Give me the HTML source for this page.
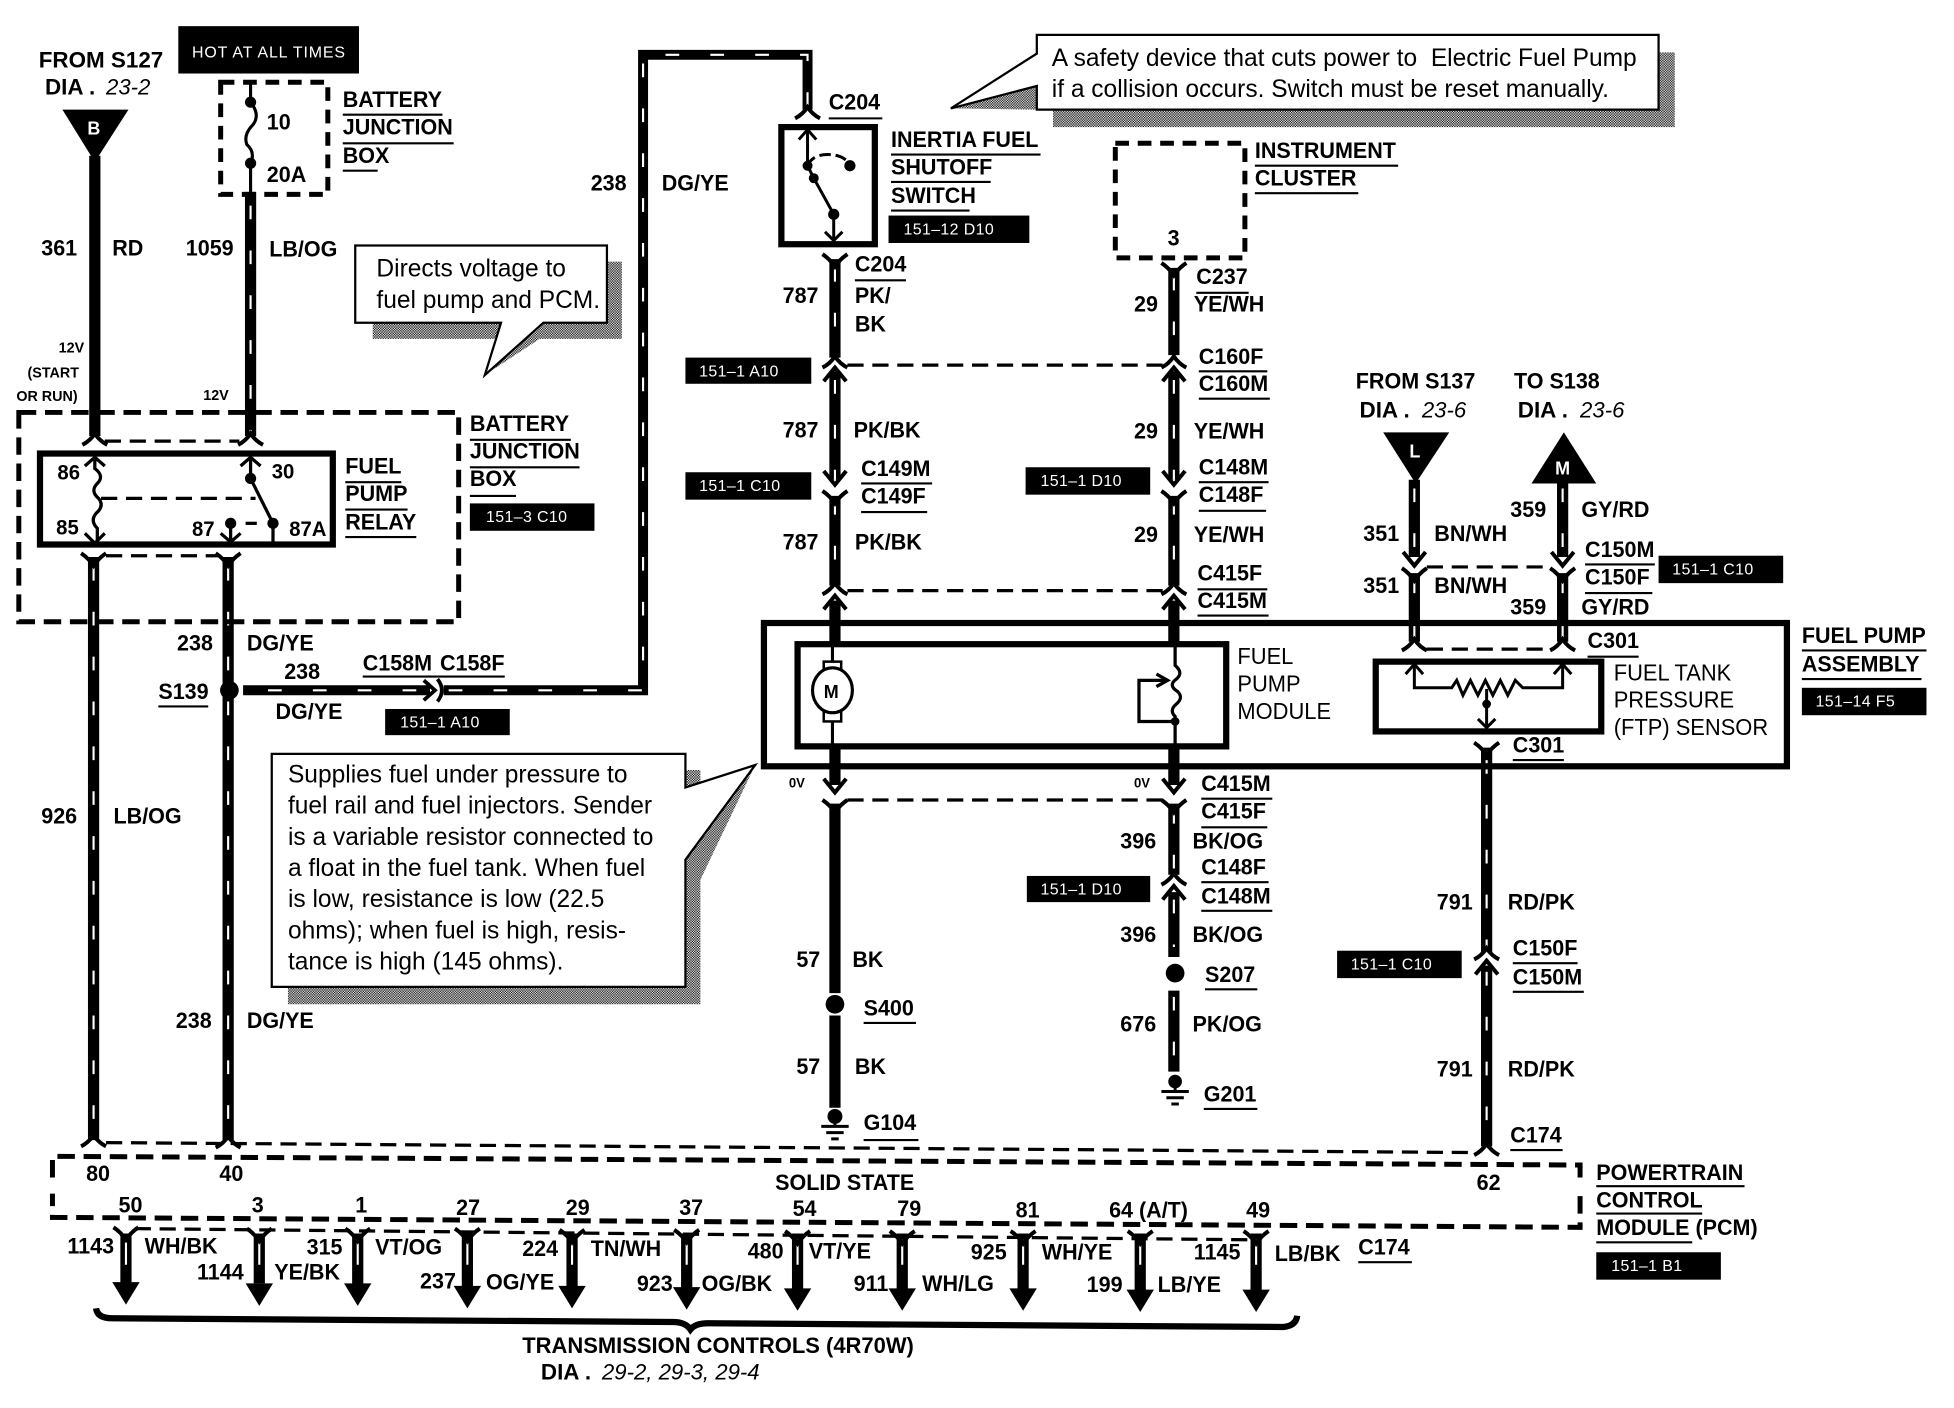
<!DOCTYPE html>
<html><head><meta charset="utf-8"><title>Fuel pump wiring diagram</title>
<style>
html,body{margin:0;padding:0;background:#fff}
svg{display:block}
text{font-family:"Liberation Sans",sans-serif;font-weight:700;font-size:18px;fill:#000;transform-box:fill-box;transform-origin:0 50%;transform:scaleX(.96)}
text.w{transform:none}
text.r{font-weight:400;font-size:19.7px;transform:none}
text.c{font-weight:400;font-size:18.5px;transform:scaleX(.95)}
text.t{font-weight:400;font-size:12.8px;fill:#fff;letter-spacing:.3px;transform:none}
text.s{font-size:12px}
text.z{font-size:11px}
text.i{font-style:italic;font-weight:400;font-size:17.8px;transform:none}
</style></head><body>
<svg xmlns="http://www.w3.org/2000/svg" width="1954" height="1408" viewBox="0 0 1568 1130">
<defs>
<pattern id="sh" width="2" height="2" patternUnits="userSpaceOnUse"><rect width="2" height="2" fill="#fff"/><rect width="1" height="1" fill="#000"/><rect x="1" y="1" width="1" height="1" fill="#000"/></pattern>
<path id="fd" d="M-10 5Q-4 2 0 -4Q4 2 10 5" fill="none" stroke="#000" stroke-width="3.2"/>
<path id="fu" d="M-10 -6Q-4 -2 0 4Q4 -2 10 -6" fill="none" stroke="#000" stroke-width="3.2"/>
<path id="ad" d="M-9 -8L0 3L9 -8" fill="none" stroke="#000" stroke-width="3.2"/>
<path id="au" d="M-9 8L0 -3L9 8" fill="none" stroke="#000" stroke-width="3.2"/>
<path id="hd" d="M-11 -12H11L0 6Z" fill="#000"/>
</defs>
<rect width="1568" height="1130" fill="#fff"/>

<!-- shadows -->
<g fill="url(#sh)">
<path d="M487 210H499V272H433L389 301L425 259H487Z"/>
<path d="M299 259H402V272H299Z"/>
<path d="M1331 42H1344V102H845V88H1331Z"/>
<path d="M763 87L832 69V88Z"/>
<path d="M550 618H562V806H231V792H550Z"/>
<path d="M606 614L562 706L550 706V632Z"/>
</g>

<!-- callouts -->
<g fill="#fff" stroke="#000" stroke-width="1.8">
<path d="M285 197H487V259H436L389 301L402 259H285Z"/>
<path d="M832 28H1331V88H832V69L763 87L832 43Z"/>
<path d="M218 605H550V632L606 614L550 690V792H218Z"/>
</g>

<!-- solid wires -->
<g fill="none" stroke="#000" stroke-width="9">
<path d="M76 125V350"/>
<path d="M201 154V350"/>
<path d="M75 447V915"/>
<path d="M183 447V915"/>
<path d="M195 554H345M356 554H516V44H648V88" stroke-width="8"/>
<path d="M670 208V287M670 298V385M670 398V470M670 482V517M670 599V630M670 645V797M670 815V889"/>
<path d="M942 215V285M942 298V385M942 398V470M942 482V517M942 599V630M942 645V702M942 716V768M942 795V860"/>
<path d="M1135 385V447M1135 460V515"/>
<path d="M1254 385V447M1254 460V515"/>
<path d="M1193 600V764M1193 775V920"/>
<path d="M101 990V1030M208 990V1030M287 990V1031M375 990V1033M459 990V1033M551 990V1034M640 990V1035M724 990V1035M821 990V1035M915 990V1036M1008 990V1036"/>
</g>
<!-- stripes -->
<g fill="none" stroke="#fff" stroke-width="1.7" stroke-dasharray="11 25">
<path d="M201 165V350"/>
<path d="M75 455V915"/>
<path d="M183 455V915"/>
<path d="M215 554H345M360 554H516V44H648V88"/>
<path d="M670 215V287M670 305V385M670 402V470"/>
<path d="M942 222V285M942 305V385M942 402V470M942 650V702M942 722V760M942 800V860"/>
<path d="M1135 392V447M1135 465V515"/>
<path d="M1254 392V447M1254 465V515"/>
<path d="M1193 610V764M1193 780V920"/>
<path d="M101 995V1022M208 995V1022M287 995V1022M375 995V1022M459 995V1022M551 995V1022M640 995V1022M724 995V1022M821 995V1022M915 995V1022M1008 995V1022" stroke-dasharray="20 100"/>
</g>

<!-- triangles -->
<path d="M50 88H103L76 130Z"/>
<path d="M1110 347H1163L1136 388Z"/>
<path d="M1229 388H1281L1255 347Z"/>
<text x="70" y="108" style="fill:#fff;font-size:15px">B</text>
<text x="1131" y="367" style="fill:#fff;font-size:15px">L</text>
<text x="1248" y="381" style="fill:#fff;font-size:15px">M</text>

<!-- black tags -->
<g>
<rect x="143" y="21" width="145" height="38"/>
<rect x="377" y="404" width="100" height="22"/>
<rect x="309" y="569" width="100" height="21"/>
<rect x="713" y="173" width="113" height="22"/>
<rect x="550" y="287" width="101" height="21"/>
<rect x="550" y="379" width="101" height="22"/>
<rect x="823" y="375" width="100" height="22"/>
<rect x="1331" y="446" width="100" height="22"/>
<rect x="1446" y="552" width="100" height="22"/>
<rect x="824" y="703" width="99" height="21"/>
<rect x="1073" y="763" width="100" height="22"/>
<rect x="1281" y="1005" width="100" height="22"/>
</g>
<text class="t" x="154" y="46" style="letter-spacing:.7px">HOT AT ALL TIMES</text>
<text class="t" x="390" y="419">151–3 C10</text>
<text class="t" x="321" y="584">151–1 A10</text>
<text class="t" x="725" y="188">151–12 D10</text>
<text class="t" x="561" y="302">151–1 A10</text>
<text class="t" x="561" y="394">151–1 C10</text>
<text class="t" x="835" y="390">151–1 D10</text>
<text class="t" x="1342" y="461">151–1 C10</text>
<text class="t" x="1457" y="567">151–14 F5</text>
<text class="t" x="835" y="718">151–1 D10</text>
<text class="t" x="1084" y="778">151–1 C10</text>
<text class="t" x="1293" y="1020">151–1 B1</text>

<!-- dashed module boxes -->
<g fill="none" stroke="#000" stroke-width="4" stroke-dasharray="14 7">
<path d="M177 66H263V156H177Z" stroke-dasharray="11 7"/>
<path d="M15 331H368V499H15Z"/>
<path d="M895 115H999V207H895Z" stroke-dasharray="11 7"/>
<path d="M42 945V928L1268 935V950M1268 960V985L42 977V958"/>
</g>
<!-- thin dashed connector bars -->
<g fill="none" stroke="#000" stroke-width="2.6" stroke-dasharray="13 7">
<path d="M84 354H192"/>
<path d="M85 446H175"/>
<path d="M680 293H933"/>
<path d="M680 474H933"/>
<path d="M680 642H933"/>
<path d="M1145 455H1245"/>
<path d="M1145 521H1245"/>
<path d="M85 917L1183 925"/>
<path d="M108 986L1005 995"/>
</g>

<!-- solid module boxes -->
<g fill="none" stroke="#000" stroke-width="5">
<rect x="32" y="364" width="235" height="73"/>
<rect x="627" y="102" width="75" height="94"/>
<rect x="613" y="500" width="821" height="115"/>
<rect x="640" y="517" width="344" height="82"/>
<rect x="1104" y="531" width="181" height="56"/>
</g>

<!-- connector ends -->
<use href="#fd" x="76" y="352"/><use href="#fd" x="201" y="352"/>
<use href="#fu" x="75" y="450"/><use href="#fu" x="183" y="450"/>
<use href="#fd" x="648" y="90"/>
<use href="#fu" x="670" y="210"/><use href="#fd" x="670" y="290"/><use href="#au" x="670" y="298"/>
<use href="#ad" x="670" y="386"/><use href="#fu" x="670" y="400"/><use href="#fd" x="670" y="472"/><use href="#au" x="670" y="481"/>
<use href="#ad" x="670" y="633"/><use href="#fu" x="670" y="648"/>
<use href="#fu" x="942" y="217"/><use href="#fd" x="942" y="290"/><use href="#au" x="942" y="298"/>
<use href="#ad" x="942" y="386"/><use href="#fu" x="942" y="400"/><use href="#fd" x="942" y="472"/><use href="#au" x="942" y="481"/>
<use href="#ad" x="942" y="633"/><use href="#fu" x="942" y="648"/><use href="#fd" x="942" y="705"/><use href="#au" x="942" y="714"/>
<use href="#ad" x="1135" y="451"/><use href="#fu" x="1135" y="462"/><use href="#fd" x="1135" y="517"/>
<use href="#ad" x="1254" y="451"/><use href="#fu" x="1254" y="462"/><use href="#fd" x="1254" y="517"/>
<use href="#fu" x="1193" y="602"/><use href="#fd" x="1193" y="765"/><use href="#au" x="1193" y="774"/><use href="#fd" x="1193" y="922"/>
<use href="#fd" x="75" y="915"/><use href="#fd" x="183" y="916"/>
<use href="#fu" x="101" y="991"/><use href="#fu" x="208" y="992"/><use href="#fu" x="287" y="992"/><use href="#fu" x="375" y="992"/><use href="#fu" x="459" y="993"/><use href="#fu" x="551" y="993"/><use href="#fu" x="640" y="994"/><use href="#fu" x="724" y="994"/><use href="#fu" x="821" y="994"/><use href="#fu" x="915" y="994"/><use href="#fu" x="1008" y="994"/>
<!-- arrow tips -->
<use href="#hd" x="101" y="1041"/><use href="#hd" x="208" y="1042"/><use href="#hd" x="287" y="1042"/><use href="#hd" x="375" y="1044"/><use href="#hd" x="459" y="1044"/><use href="#hd" x="551" y="1045"/><use href="#hd" x="640" y="1046"/><use href="#hd" x="724" y="1046"/><use href="#hd" x="821" y="1046"/><use href="#hd" x="915" y="1047"/><use href="#hd" x="1008" y="1047"/>
<!-- brace -->
<path d="M77 1050Q78 1058 90 1058L540 1061Q550 1061 554 1067Q558 1062 568 1062L1030 1065Q1040 1064 1041 1056" fill="none" stroke="#000" stroke-width="5"/>
<!-- inline connector 158 -->
<path d="M340 546L349 554L340 562M351 545Q358 554 351 563" fill="none" stroke="#000" stroke-width="3"/>

<!-- fuse -->
<path d="M201 66V82Q209 92 203 100Q195 108 198 116Q205 122 201 131V156" fill="none" stroke="#000" stroke-width="2.5"/>
<circle cx="201" cy="82" r="4.5"/><circle cx="201" cy="131" r="4.5"/>

<!-- relay internals -->
<g fill="none" stroke="#000" stroke-width="2.6">
<path d="M76 366V376Q84 382 78 388Q72 394 79 400Q84 406 77 412Q72 418 78 424V436"/>
<path d="M68 374L76 367L84 374M68 428L76 436L84 428"/>
<path d="M201 366V384L219 420V436"/>
<path d="M193 374L201 367L209 374"/>
<path d="M185 420V435M177 428L185 435L193 428"/>
<path d="M81 400H205" stroke-dasharray="13 7"/>
<path d="M197 420H206"/>
</g>
<circle cx="201" cy="384" r="4.5"/><circle cx="219" cy="420" r="4.5"/><circle cx="185" cy="420" r="4.5"/>

<!-- inertia switch internals -->
<g fill="none" stroke="#000" stroke-width="2.4">
<path d="M648 103V133L653 143L669 172V193"/>
<path d="M641 112L648 104L655 112M662 186L669 193L676 186"/>
<path d="M648 133Q652 124 664 124Q678 124 682 133" stroke-dasharray="9 4"/>
</g>
<circle cx="648" cy="133" r="4"/><circle cx="653" cy="143" r="4"/><circle cx="669" cy="172" r="4.5"/><circle cx="682" cy="133" r="4.5"/>

<!-- motor -->
<path d="M668 517V535M668 577V599" stroke="#000" stroke-width="2.5"/>
<rect x="661" y="531" width="14" height="8" fill="#fff" stroke="#000" stroke-width="2"/>
<rect x="661" y="571" width="14" height="8" fill="#fff" stroke="#000" stroke-width="2"/>
<ellipse cx="668" cy="554" rx="16" ry="18" fill="#fff" stroke="#000" stroke-width="2.5"/>
<text x="661" y="560" style="font-size:15px">M</text>

<!-- sender -->
<g fill="none" stroke="#000" stroke-width="2.6">
<path d="M943 517V534Q950 540 944 545Q937 550 945 555Q950 560 944 565Q938 570 943 575V599"/>
<path d="M943 579H914V546H935"/>
<path d="M928 541L937 546L928 551"/>
</g>
<circle cx="943" cy="579" r="3.5"/>

<!-- FTP sensor -->
<g fill="none" stroke="#000" stroke-width="2.4">
<path d="M1135 534V552H1165L1169 546L1174 558L1180 546L1186 558L1192 546L1198 558L1204 546L1210 558L1216 546L1222 552H1254V534"/>
<path d="M1128 541L1135 533L1142 541M1247 541L1254 533L1261 541"/>
<path d="M1193 553V584M1186 577L1193 584L1200 577"/>
</g>
<circle cx="1193" cy="565" r="3.5"/>

<!-- splice nodes and grounds -->
<circle cx="184" cy="554" r="7.5"/>
<circle cx="670" cy="806" r="7.5"/>
<circle cx="943" cy="781" r="7.5"/>
<circle cx="670" cy="896" r="6"/>
<circle cx="943" cy="868" r="5.5"/>
<g stroke="#000" stroke-width="2.4" fill="none">
<path d="M670 896V905M659 904H681M663 909H677M667 914H673"/>
<path d="M943 868V877M932 876H954M936 881H950M940 886H946"/>
</g>

<!-- underlines -->
<path fill="none" stroke="#000" stroke-width="1.7" d="M275 92H355M275 115H364M275 137H303M377 353H458M377 375H465M377 398H414M277 387H322M277 409H327M277 431H334M127 567H167M291 543H405M665 95H708M715 124H835M715 146H795M715 169H778M686 225H727M691 388H748M691 411H744M962 298H1017M962 320H1019M960 235H1002M1007 133H1122M1007 155H1090M962 387H1018M962 410H1016M961 473H1017M961 494H1018M1272 453H1328M1272 476H1326M1274 527H1315M1446 522H1546M1446 545H1542M964 641H1021M964 664H1017M964 708H1018M964 731H1021M693 821H735M967 794H1009M693 915H737M966 890H1009M1214 610H1255M1214 773H1266M1214 796H1271M1212 923H1254M1090 1013H1133M1281 952H1400M1281 974H1366M1281 997H1358"/>

<!-- labels -->
<text class="w" x="31" y="54">FROM S127</text>
<text class="w" x="36" y="76">DIA .</text><text class="i" x="85" y="76">23-2</text>
<text x="214" y="104">10</text><text x="214" y="146">20A</text>
<text x="275" y="86">BATTERY</text><text x="275" y="108">JUNCTION</text><text x="275" y="131">BOX</text>
<text x="33" y="205">361</text><text x="90" y="205">RD</text>
<text x="149" y="205">1059</text><text x="216" y="206">LB/OG</text>
<text class="r" x="302" y="222">Directs voltage to</text>
<text class="r" x="302" y="247">fuel pump and PCM.</text>
<text class="s" x="47" y="283">12V</text><text class="s" x="22" y="303">(START</text><text class="s" x="13" y="322">OR RUN)</text><text class="s" x="163" y="321">12V</text>
<text x="377" y="346">BATTERY</text><text x="377" y="368">JUNCTION</text><text x="377" y="390">BOX</text>
<text x="46" y="385" style="font-size:17px">86</text><text x="45" y="429" style="font-size:17px">85</text><text x="218" y="384" style="font-size:17px">30</text><text x="154" y="430" style="font-size:17px">87</text><text x="232" y="430" style="font-size:17px">87A</text>
<text x="277" y="380">FUEL</text><text x="277" y="402">PUMP</text><text x="277" y="425">RELAY</text>
<text x="142" y="522">238</text><text x="198" y="522">DG/YE</text>
<text x="127" y="561">S139</text>
<text x="291" y="538">C158M</text><text x="353" y="538">C158F</text>
<text x="228" y="545">238</text><text x="221" y="577">DG/YE</text>
<text x="33" y="661">926</text><text x="91" y="661">LB/OG</text>
<text x="141" y="825">238</text><text x="198" y="825">DG/YE</text>
<text x="474" y="153">238</text><text x="531" y="153">DG/YE</text>
<text x="665" y="88">C204</text>
<text x="715" y="118">INERTIA FUEL</text><text x="715" y="140">SHUTOFF</text><text x="715" y="163">SWITCH</text>
<text class="r" x="844" y="53">A safety device that cuts power to&#160; Electric Fuel Pump</text>
<text class="r" x="844" y="78">if a collision occurs. Switch must be reset manually.</text>
<text x="1007" y="127">INSTRUMENT</text><text x="1007" y="149">CLUSTER</text>
<text x="937" y="197">3</text>
<text x="686" y="218">C204</text><text x="686" y="243">PK/</text><text x="686" y="266">BK</text><text x="628" y="243">787</text>
<text x="628" y="351">787</text><text x="685" y="351">PK/BK</text>
<text x="691" y="382">C149M</text><text x="691" y="404">C149F</text>
<text x="628" y="441">787</text><text x="686" y="441">PK/BK</text>
<text x="960" y="228">C237</text><text x="958" y="250">YE/WH</text><text x="910" y="250">29</text>
<text x="962" y="292">C160F</text><text x="962" y="314">C160M</text>
<text x="910" y="352">29</text><text x="958" y="352">YE/WH</text>
<text x="962" y="381">C148M</text><text x="962" y="403">C148F</text>
<text x="910" y="435">29</text><text x="958" y="435">YE/WH</text>
<text x="961" y="466">C415F</text><text x="961" y="488">C415M</text>
<text x="1088" y="312">FROM S137</text><text class="w" x="1091" y="335">DIA .</text><text class="i" x="1141" y="335">23-6</text>
<text x="1215" y="312">TO S138</text><text class="w" x="1218" y="335">DIA .</text><text class="i" x="1268" y="335">23-6</text>
<text x="1094" y="434">351</text><text x="1151" y="434">BN/WH</text>
<text x="1094" y="476">351</text><text x="1151" y="476">BN/WH</text>
<text x="1212" y="415">359</text><text x="1269" y="415">GY/RD</text>
<text x="1272" y="447">C150M</text><text x="1272" y="469">C150F</text>
<text x="1212" y="493">359</text><text x="1269" y="493">GY/RD</text>
<text x="1274" y="520">C301</text>
<text x="1446" y="516">FUEL PUMP</text><text x="1446" y="539">ASSEMBLY</text>
<text class="c" x="993" y="533">FUEL</text><text class="c" x="993" y="555">PUMP</text><text class="c" x="993" y="577">MODULE</text>
<text class="c" x="1295" y="546">FUEL TANK</text><text class="c" x="1295" y="568">PRESSURE</text><text class="c" x="1295" y="590">(FTP) SENSOR</text>
<text x="1214" y="604">C301</text>
<text class="r" x="231" y="628">Supplies fuel under pressure to</text>
<text class="r" x="231" y="653">fuel rail and fuel injectors. Sender</text>
<text class="r" x="231" y="678">is a variable resistor connected to</text>
<text class="r" x="231" y="703">a float in the fuel tank. When fuel</text>
<text class="r" x="231" y="728">is low, resistance is low (22.5</text>
<text class="r" x="231" y="753">ohms); when fuel is high, resis-</text>
<text class="r" x="231" y="778">tance is high (145 ohms).</text>
<text class="z" x="633" y="632">0V</text><text class="z" x="910" y="632">0V</text>
<text x="964" y="635">C415M</text><text x="964" y="657">C415F</text>
<text x="899" y="681">396</text><text x="957" y="681">BK/OG</text>
<text x="964" y="702">C148F</text><text x="964" y="725">C148M</text>
<text x="899" y="756">396</text><text x="957" y="756">BK/OG</text>
<text x="967" y="788">S207</text>
<text x="899" y="828">676</text><text x="957" y="828">PK/OG</text>
<text x="966" y="884">G201</text>
<text x="639" y="776">57</text><text x="684" y="776">BK</text>
<text x="693" y="815">S400</text>
<text x="639" y="862">57</text><text x="686" y="862">BK</text>
<text x="693" y="907">G104</text>
<text x="1153" y="730">791</text><text x="1210" y="730">RD/PK</text>
<text x="1214" y="767">C150F</text><text x="1214" y="790">C150M</text>
<text x="1153" y="864">791</text><text x="1210" y="864">RD/PK</text>
<text x="1212" y="917">C174</text>
<text x="69" y="948">80</text><text x="176" y="948">40</text>
<text x="622" y="955">SOLID STATE</text><text x="1185" y="955">62</text>
<text x="95" y="973">50</text><text x="202" y="973">3</text><text x="285" y="973">1</text><text x="366" y="975">27</text><text x="454" y="975">29</text><text x="545" y="975">37</text><text x="636" y="976">54</text><text x="720" y="976">79</text><text x="815" y="977">81</text><text x="890" y="977">64 (A/T)</text><text x="1000" y="977">49</text>
<text x="54" y="1006">1143</text><text x="116" y="1006">WH/BK</text>
<text x="158" y="1027">1144</text><text x="220" y="1027">YE/BK</text>
<text x="246" y="1007">315</text><text x="301" y="1007">VT/OG</text>
<text x="337" y="1034">237</text><text x="390" y="1035">OG/YE</text>
<text x="419" y="1008">224</text><text x="474" y="1008">TN/WH</text>
<text x="511" y="1036">923</text><text x="563" y="1036">OG/BK</text>
<text x="600" y="1010">480</text><text x="649" y="1010">VT/YE</text>
<text x="685" y="1036">911</text><text x="740" y="1036">WH/LG</text>
<text x="779" y="1011">925</text><text x="836" y="1011">WH/YE</text>
<text x="872" y="1037">199</text><text x="929" y="1037">LB/YE</text>
<text x="958" y="1011">1145</text><text x="1023" y="1012">LB/BK</text>
<text x="1090" y="1007">C174</text>
<text x="1281" y="947">POWERTRAIN</text><text x="1281" y="969">CONTROL</text><text x="1281" y="991">MODULE (PCM)</text>
<text class="w" x="419" y="1086" style="transform:scaleX(.98)">TRANSMISSION CONTROLS (4R70W)</text>
<text class="w" x="434" y="1107">DIA .</text><text class="i" x="483" y="1107">29-2, 29-3, 29-4</text>
</svg>
</body></html>
